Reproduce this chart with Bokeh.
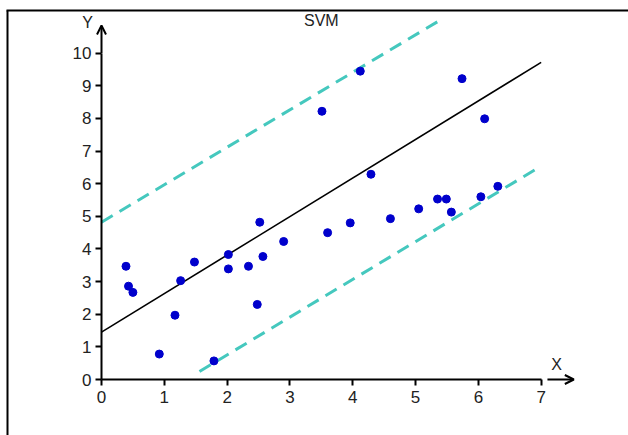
from bokeh.plotting import figure
from bokeh.models import Range1d, Arrow, OpenHead, Label, FixedTicker
from bokeh.embed import file_html
from bokeh.resources import INLINE

# data points
px = [0.39, 0.43, 0.50, 0.92, 1.17, 1.26, 1.48, 1.79, 2.02, 2.02, 2.34, 2.48, 2.52, 2.57, 2.90,
      3.60, 3.96, 4.60, 5.05, 5.57, 4.12, 3.51, 5.74, 6.10, 4.29, 5.35, 5.49, 6.04, 6.31]
py = [3.47, 2.86, 2.67, 0.78, 1.97, 3.03, 3.60, 0.57, 3.83, 3.39, 3.47, 2.30, 4.82, 3.77, 4.23,
      4.50, 4.80, 4.93, 5.23, 5.13, 9.45, 8.22, 9.22, 7.99, 6.29, 5.53, 5.53, 5.60, 5.92]

# SVM hyperplane and margins
hyper_x = [0.0, 7.0]
hyper_y = [1.45, 9.72]
upper_x = [0.0, 5.45]
upper_y = [4.82, 11.08]
lower_x = [1.56, 7.0]
lower_y = [0.245, 6.54]

x_ticks = [0, 1, 2, 3, 4, 5, 6, 7]
y_ticks = [0, 1, 2, 3, 4, 5, 6, 7, 8, 9, 10]

W, H = 628, 435
x0_px, xs = 101.0, 62.81
y0_px, ys = 379.0, 32.63

def dx(pix):
    return (pix - x0_px) / xs

def dy(pix):
    return (y0_px - pix) / ys

p = figure(width=W, height=H, output_backend="svg", toolbar_location=None,
           x_range=Range1d(dx(0), dx(W)),
           y_range=Range1d(dy(H), dy(0)),
           min_border=0, min_border_left=0, min_border_right=0,
           min_border_top=0, min_border_bottom=0)
p.outline_line_color = None
p.outline_line_alpha = 0
p.grid.visible = False
p.background_fill_color = "white"
p.border_fill_color = "white"

for ax in (p.xaxis[0], p.yaxis[0]):
    ax.fixed_location = 0
    ax.axis_line_width = 2
    ax.axis_line_color = "black"
    ax.major_tick_line_width = 2
    ax.major_tick_line_color = "black"
    ax.major_tick_out = 6
    ax.major_tick_in = 0
    ax.minor_tick_line_color = None
    ax.major_label_text_font = "Liberation Sans"
    ax.major_label_text_font_size = "17px"
    ax.major_label_text_color = "#222222"

p.xaxis[0].ticker = FixedTicker(ticks=x_ticks)
p.yaxis[0].ticker = FixedTicker(ticks=y_ticks)
p.xaxis[0].bounds = (0, 7)
p.yaxis[0].bounds = (0, 10)
p.xaxis[0].major_label_standoff = 5
p.yaxis[0].major_label_standoff = 4

# axis arrows
p.add_layout(Arrow(end=OpenHead(size=9, line_width=2, line_color="black"),
                   x_start=7.1, y_start=0, x_end=7.52, y_end=0,
                   line_width=2, line_color="black"))
p.add_layout(Arrow(end=OpenHead(size=9, line_width=2, line_color="black"),
                   x_start=0, y_start=10, x_end=0, y_end=10.85,
                   line_width=2, line_color="black"))

# outer frame border (top and left only)
p.segment(x0=[dx(6), dx(7)], y0=[dy(10), dy(10)], x1=[dx(W), dx(7)], y1=[dy(10), dy(H)],
          line_color="black", line_width=2)

p.line(upper_x, upper_y, line_color="#45C8BE", line_width=3, line_dash="13 8")
p.line(lower_x, lower_y, line_color="#45C8BE", line_width=3, line_dash="13 8")
p.line(hyper_x, hyper_y, line_color="black", line_width=1.6)
p.scatter(px, py, size=8, color="#0000CC")

p.add_layout(Label(x=3.5, y=11.0, text="SVM", text_align="center", text_baseline="middle",
                   text_font="Liberation Sans", text_font_size="16px", text_color="#222222"))
p.add_layout(Label(x=7.245, y=0.46, text="X", text_align="center", text_baseline="middle",
                   text_font="Liberation Sans", text_font_size="16px", text_color="#222222"))
p.add_layout(Label(x=-0.223, y=10.94, text="Y", text_align="center", text_baseline="middle",
                   text_font="Liberation Sans", text_font_size="16px", text_color="#222222"))

open("out.html", "w").write(file_html(p, INLINE))
